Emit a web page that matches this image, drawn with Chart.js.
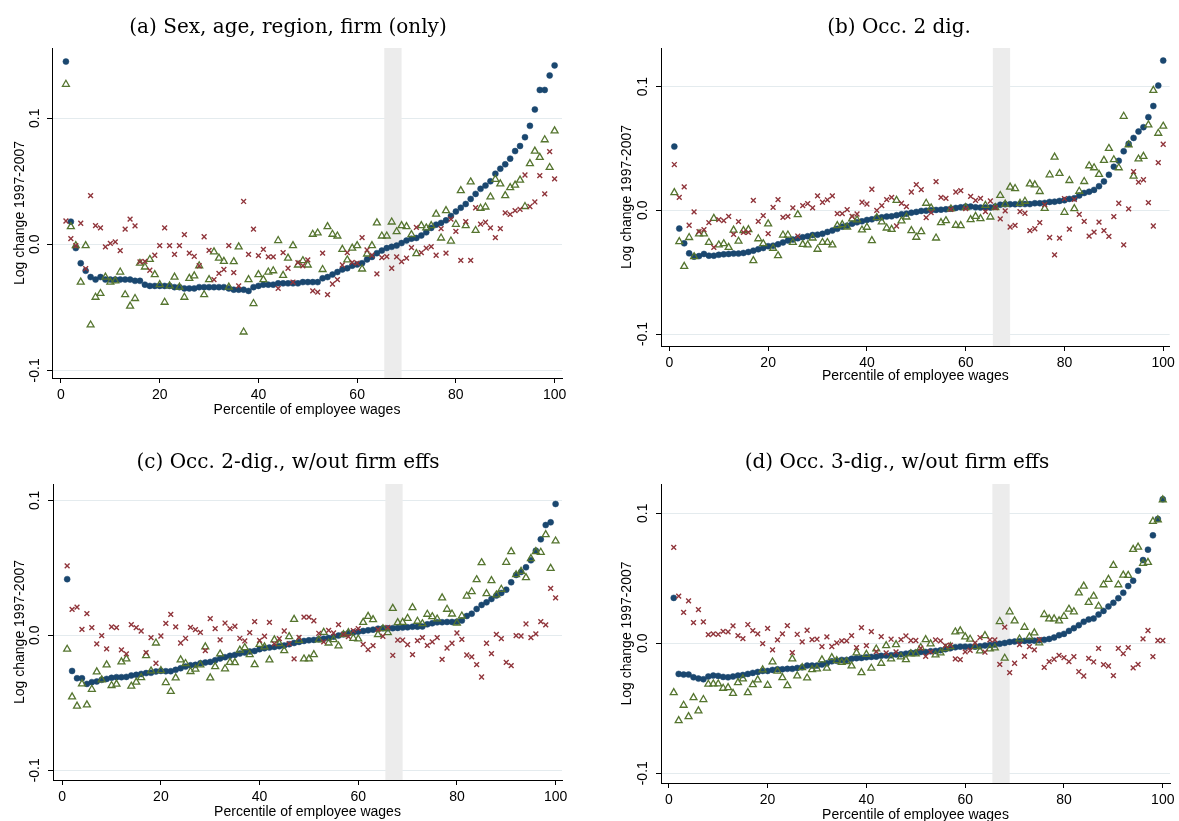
<!DOCTYPE html>
<html><head><meta charset="utf-8">
<script src="https://cdn.jsdelivr.net/npm/chart.js@4.4.0/dist/chart.umd.min.js"></script>
<style>
html,body{margin:0;padding:0;background:#fff;overflow:hidden;width:1179px;height:821px;position:relative;}
canvas{position:absolute;}
</style></head><body>
<canvas id="pa" width="590" height="420" style="left:0px;top:0px"></canvas>
<canvas id="pb" width="589" height="420" style="left:590px;top:0px"></canvas>
<canvas id="pc" width="590" height="400" style="left:0px;top:440px"></canvas>
<canvas id="pd" width="589" height="400" style="left:590px;top:440px"></canvas>
<script>
// ---------- data ----------
const percentiles = [1,2,3,4,5,6,7,8,9,10,11,12,13,14,15,16,17,18,19,20,21,22,23,24,25,26,27,28,29,30,31,32,33,34,35,36,37,38,39,40,41,42,43,44,45,46,47,48,49,50,51,52,53,54,55,56,57,58,59,60,61,62,63,64,65,66,67,68,69,70,71,72,73,74,75,76,77,78,79,80,81,82,83,84,85,86,87,88,89,90,91,92,93,94,95,96,97,98,99,100];
const xTickValues = [0,20,40,60,80,100];
const yTickValues = [-0.1,0.0,0.1];
const xAxisTitle = "Percentile of employee wages";
const yAxisTitle = "Log change 1997-2007";
const panelTitles = ["(a) Sex, age, region, firm (only)","(b) Occ. 2 dig.","(c) Occ. 2-dig., w/out firm effs","(d) Occ. 3-dig., w/out firm effs"];
const bandRange = [65.5, 69];

const aBlue = [0.145,0.018,-0.003,-0.015,-0.021,-0.026,-0.028,-0.026,-0.028,-0.028,-0.028,-0.028,-0.028,-0.028,-0.029,-0.029,-0.032,-0.033,-0.033,-0.033,-0.033,-0.033,-0.034,-0.034,-0.035,-0.035,-0.035,-0.034,-0.034,-0.034,-0.034,-0.034,-0.034,-0.035,-0.036,-0.036,-0.036,-0.037,-0.034,-0.033,-0.032,-0.032,-0.032,-0.031,-0.031,-0.031,-0.031,-0.031,-0.030,-0.030,-0.030,-0.030,-0.027,-0.026,-0.024,-0.022,-0.020,-0.019,-0.017,-0.016,-0.015,-0.012,-0.010,-0.007,-0.005,-0.003,-0.002,-0.001,0.001,0.003,0.0045,0.005,0.007,0.0095,0.013,0.0156,0.017,0.019,0.0225,0.026,0.029,0.032,0.036,0.040,0.044,0.0466,0.050,0.056,0.060,0.0635,0.068,0.074,0.078,0.085,0.094,0.107,0.1225,0.1225,0.134,0.142];
const aGreen = [0.127,0.014,-0.001,-0.030,-0.001,-0.064,-0.042,-0.039,-0.026,-0.030,-0.029,-0.022,-0.040,-0.049,-0.043,-0.015,-0.018,-0.012,-0.024,-0.032,-0.046,-0.033,-0.026,-0.034,-0.042,-0.027,-0.025,-0.017,-0.040,-0.028,-0.006,-0.011,-0.0135,-0.034,-0.0138,-0.002,-0.0696,-0.028,-0.047,-0.024,-0.028,-0.022,-0.021,0.003,-0.0246,-0.011,-0.001,-0.0164,-0.013,-0.0164,0.008,0.009,-0.020,0.014,0.008,0.0066,-0.004,-0.0124,-0.003,-0.001,-0.0196,-0.0077,-0.001,0.017,0.0066,0.0066,0.0177,0.010,0.0148,0.014,0.0077,-0.0074,0.0148,0.013,0.0148,0.024,0.005,0.0267,0.0026,0.0159,0.0426,0.0148,0.0495,0.011,0.0286,0.0296,0.0376,0.0516,0.048,0.0386,0.045,0.047,0.051,0.030,0.064,0.074,0.069,0.083,0.061,0.090];
const aRed = [0.0185,0.0045,-0.001,0.0167,-0.0193,0.0386,0.0148,0.013,-0.002,0.0008,0.002,-0.005,0.012,0.020,0.0146,-0.014,-0.0135,-0.0206,-0.0087,-0.001,0.013,-0.001,-0.008,-0.001,0.0077,-0.007,-0.0095,-0.017,0.006,-0.0048,-0.028,-0.023,-0.020,-0.001,-0.0225,-0.033,0.034,-0.008,0.012,-0.009,-0.004,-0.010,-0.010,-0.035,-0.0066,-0.019,-0.030,-0.0146,-0.017,-0.0124,-0.037,-0.038,-0.007,-0.040,-0.0315,-0.028,-0.0164,-0.0066,-0.0143,-0.015,0.0053,-0.0045,-0.0087,-0.0235,-0.0106,-0.0098,-0.019,-0.010,-0.0138,-0.011,-0.0026,0.0135,-0.0066,-0.003,-0.0019,-0.0087,0.0124,-0.007,0.020,0.0103,-0.0127,0.018,-0.0127,0.029,0.016,0.0175,0.013,0.0053,0.0124,0.025,0.0238,0.0267,0.0278,0.055,0.030,0.0336,0.0545,0.040,0.0735,0.052];

const bBlue = [0.0515,-0.0148,-0.0267,-0.0348,-0.0375,-0.037,-0.0353,-0.0367,-0.0367,-0.036,-0.0356,-0.0353,-0.035,-0.035,-0.0345,-0.0337,-0.0326,-0.0315,-0.0305,-0.029,-0.0286,-0.0275,-0.026,-0.0245,-0.0237,-0.0226,-0.0218,-0.021,-0.020,-0.0197,-0.019,-0.0175,-0.0164,-0.015,-0.0132,-0.0124,-0.0108,-0.0097,-0.0089,-0.0078,-0.0073,-0.0062,-0.0057,-0.0051,-0.0049,-0.004,-0.0032,-0.0027,-0.0019,-0.0013,-0.0005,-0.0003,0,0.0003,0.0005,0.0008,0.0013,0.0019,0.0024,0.003,0.003,0.0024,0.0022,0.0022,0.0022,0.003,0.0045,0.0049,0.0049,0.0049,0.005,0.005,0.005,0.0057,0.0057,0.006,0.0068,0.007,0.0076,0.0081,0.0092,0.0098,0.012,0.014,0.015,0.0165,0.0195,0.0233,0.0287,0.0352,0.040,0.0477,0.0537,0.0585,0.0637,0.0672,0.0753,0.0843,0.1008,0.121];
const bGreen = [0.0143,-0.0253,-0.0453,-0.022,-0.0375,-0.019,-0.019,-0.026,-0.0065,-0.028,-0.027,-0.030,-0.016,-0.025,-0.0164,-0.0156,-0.0407,-0.023,-0.027,-0.011,-0.0307,-0.0367,-0.020,-0.020,-0.026,-0.0035,-0.0275,-0.028,-0.0224,-0.0315,-0.026,-0.026,-0.028,-0.0124,-0.0116,-0.0135,-0.007,-0.0078,-0.0159,-0.0137,-0.0245,-0.0059,-0.0094,-0.0143,-0.0154,0.008,-0.0086,-0.0054,-0.0164,-0.0218,-0.0172,0.0057,0.0019,-0.0224,-0.010,-0.0084,0.0011,-0.0121,-0.0124,0.0022,-0.0075,-0.0049,-0.0067,0.004,-0.0054,0.0022,0.012,0.005,0.0187,0.0176,0.0057,0.0073,0.0214,0.0206,0.0152,0.0016,0.0287,0.043,0.0298,-0.0016,0.0241,0.0014,0.0154,0.0233,0.036,0.0344,0.029,0.0404,0.050,0.0409,0.0344,0.076,0.053,0.0276,0.0415,0.0436,0.069,0.097,0.0623,0.068];
const bRed = [0.037,0.0105,0.0189,-0.0121,-0.0013,-0.0173,-0.0156,-0.010,-0.030,-0.0075,-0.0084,-0.0049,-0.0194,-0.0092,-0.0178,-0.0178,0.008,-0.0089,-0.0043,-0.0189,0.0024,0.0086,-0.0057,-0.0049,0.0019,-0.0208,0.0038,0.0054,0.0019,0.0116,0.0065,0.0084,0.0116,-0.0027,-0.0027,0.0005,-0.0049,-0.003,0.0065,0.0051,0.017,0,0.0038,0.0086,0.0105,-0.0127,0.0057,0.003,0.0148,0.0208,0.0167,-0.0059,-0.0019,0.0232,0.0105,0.0097,0.0008,0.0148,0.0159,0.0013,0.0113,0.008,0.0097,-0.0011,0.0075,0.0022,-0.007,-0.0005,-0.0135,-0.0122,-0.0011,-0.0024,-0.0165,-0.0149,-0.010,0.0046,-0.022,-0.036,-0.0225,0.0095,-0.0152,0.0089,-0.0033,-0.0089,-0.0209,-0.0176,-0.0095,-0.0165,-0.0211,-0.0051,0.0057,-0.0279,0.0011,0.0312,0.0228,0.0247,0.0062,-0.0127,0.0385,0.0534];

const cBlue = [0.0416,-0.0264,-0.0318,-0.0318,-0.036,-0.0347,-0.0342,-0.033,-0.0323,-0.0315,-0.031,-0.031,-0.0308,-0.0298,-0.0293,-0.0286,-0.028,-0.0278,-0.0268,-0.0264,-0.0266,-0.0266,-0.0256,-0.0244,-0.0232,-0.0222,-0.0219,-0.0207,-0.0202,-0.0197,-0.0185,-0.0172,-0.0162,-0.0152,-0.0145,-0.0135,-0.0128,-0.012,-0.0116,-0.0103,-0.0096,-0.0091,-0.0086,-0.0081,-0.0076,-0.0066,-0.0057,-0.0049,-0.0042,-0.0037,-0.0034,-0.003,-0.0025,-0.002,-0.001,-0.0002,0.0007,0.0015,0.002,0.0027,0.0032,0.0037,0.0042,0.0049,0.0052,0.0052,0.0053,0.0055,0.0057,0.0059,0.0064,0.0064,0.0065,0.0081,0.0089,0.0096,0.0097,0.0099,0.0099,0.0101,0.0109,0.0143,0.016,0.0195,0.0225,0.0244,0.0269,0.0294,0.0314,0.0338,0.0393,0.0447,0.0469,0.0504,0.0556,0.0627,0.0711,0.0817,0.0837,0.0973];
const cGreen = [-0.0103,-0.0456,-0.0525,-0.036,-0.0515,-0.040,-0.0271,-0.033,-0.0219,-0.0372,-0.0362,-0.0197,-0.0175,-0.0377,-0.0347,-0.0313,-0.015,-0.0264,-0.0057,-0.0261,-0.035,-0.0416,-0.0315,-0.0182,-0.0209,-0.0268,-0.0251,-0.0219,-0.0086,-0.0315,-0.0232,-0.0138,-0.0248,-0.020,-0.0202,-0.011,-0.0091,-0.0143,-0.0217,-0.0067,-0.0086,-0.0182,-0.0034,-0.0062,-0.0113,-0.001,0.0118,-0.0037,-0.0175,-0.0175,-0.0143,-0.0034,0.0022,-0.0057,-0.0032,-0.0079,0.0005,0.002,-0.0022,-0.0027,0.0096,0.014,0.0116,0.0005,0.0049,0.002,0.020,0.0094,0.0096,0.0126,0.0205,0.0104,0.0086,0.0156,0.0138,0.0121,0.0277,0.0193,0.0158,0.0091,0.0143,0.0291,0.0323,0.0412,0.0538,0.0309,0.0405,0.0299,0.0341,0.0541,0.062,0.0449,0.0474,0.0427,0.0568,0.062,0.0615,0.0746,0.0496,0.0699];
const cRed = [0.0515,0.0192,0.0209,0.0044,0.016,0.0057,-0.0064,-0.0002,-0.0101,0.0062,0.0057,-0.0108,-0.0138,0.0079,0.0057,0.0032,-0.0128,-0.0017,-0.0207,-0.0005,0.0089,0.0155,0.0062,-0.0057,-0.0022,0.0059,0.0042,0.0022,-0.0113,0.0123,0.0049,-0.0034,0.0091,0.0049,0.0067,-0.0022,-0.0042,0.002,0.0101,-0.0037,-0.0007,0.0096,-0.0064,-0.0025,0.0032,-0.0062,-0.0175,-0.0015,0.0135,0.0135,0.0108,0.0015,-0.0049,0.0037,0.0017,0.0079,0.0007,-0.001,0.0034,0.0049,-0.0067,-0.0106,-0.0076,0.0044,-0.0007,0.0059,-0.0148,-0.0035,-0.0035,-0.0069,-0.0143,-0.004,-0.0017,-0.0074,-0.0049,-0.0017,-0.0178,-0.0094,-0.0059,0.0017,-0.003,-0.0146,-0.016,-0.0217,-0.0309,-0.0059,-0.0136,0.0007,-0.0025,-0.020,-0.0225,-0.0002,-0.0005,0.0084,-0.0017,0.001,0.0101,0.0077,0.0348,0.0277];

const dBlue = [0.0349,-0.0236,-0.0241,-0.0241,-0.0262,-0.0272,-0.0277,-0.0256,-0.0249,-0.0251,-0.0259,-0.0262,-0.0256,-0.0249,-0.0244,-0.0236,-0.0228,-0.0221,-0.0213,-0.0213,-0.0205,-0.020,-0.020,-0.0197,-0.0197,-0.019,-0.0185,-0.0172,-0.0172,-0.0172,-0.0164,-0.0154,-0.0139,-0.0135,-0.0128,-0.0128,-0.012,-0.0115,-0.0113,-0.0108,-0.0105,-0.0103,-0.0097,-0.0095,-0.0092,-0.0087,-0.0085,-0.008,-0.0074,-0.0072,-0.0067,-0.0067,-0.0062,-0.0059,-0.0054,-0.0046,-0.0038,-0.0031,-0.0026,-0.0026,-0.0026,-0.0026,-0.0023,-0.0018,-0.0013,-0.001,-0.0004,0.0002,0.001,0.0013,0.0015,0.0018,0.002,0.002,0.0023,0.0026,0.0033,0.0044,0.0062,0.0072,0.0095,0.0116,0.0139,0.0165,0.0183,0.019,0.0221,0.0249,0.0283,0.0311,0.0347,0.0388,0.044,0.0481,0.0558,0.064,0.072,0.083,0.0956,0.1108];
const dGreen = [-0.038,-0.0595,-0.0477,-0.0564,-0.0418,-0.052,-0.0433,-0.0315,-0.0313,-0.0313,-0.0346,-0.0341,-0.0385,-0.0303,-0.0274,-0.038,-0.0318,-0.0282,-0.0205,-0.0323,-0.0144,-0.0215,-0.0264,-0.0326,-0.012,-0.0251,-0.0187,-0.0267,-0.0203,-0.0197,-0.0128,-0.0192,-0.011,-0.0133,-0.0146,-0.0141,-0.0174,-0.0074,-0.0226,-0.0085,-0.0192,-0.0044,-0.0154,-0.0018,-0.012,-0.001,-0.0105,-0.0126,-0.0082,-0.0082,-0.0033,0.0028,-0.0005,-0.009,-0.0074,-0.0041,-0.0026,0.0087,0.0095,0.0049,0.0031,-0.0026,-0.0059,0.0059,-0.0044,-0.0036,0.0167,-0.0115,0.0242,0.0172,0.0033,0.0123,0.0049,0.008,0.0003,0.0221,0.0188,0.0188,0.0172,0.0206,0.0262,0.0242,0.0388,0.044,0.0314,0.0362,0.0285,0.045,0.0491,0.0599,0.045,0.0524,0.0522,0.0722,0.074,0.0614,0.0622,0.0938,0.0949,0.1103];
const dRed = [0.0738,0.0362,0.0238,0.0326,0.0159,0.0259,0.0164,0.0067,0.0072,0.0069,0.0092,0.0087,0.0133,0.0059,0.0036,0.0144,0.0097,0.0072,-0.0003,0.0115,-0.0051,0.0026,0.0072,0.0136,-0.0072,0.0069,0.001,0.01,0.0028,0.0031,-0.0026,0.0049,-0.0025,0.0003,0.0018,0.0018,0.0059,-0.0033,0.012,-0.0018,0.009,-0.0064,0.0051,-0.0074,0.0031,-0.0067,0.0028,0.0056,0.0021,0.0021,-0.0038,-0.01,-0.0067,0.0026,0.0018,-0.0018,-0.0015,-0.012,-0.0126,-0.0067,-0.0054,0.0003,0.0044,-0.0069,0.0026,0.0026,-0.0163,0.0124,-0.0226,-0.0154,-0.001,-0.01,-0.0026,-0.0051,0.0028,-0.0185,-0.0141,-0.0123,-0.0093,-0.011,-0.0141,-0.0103,-0.0219,-0.0252,-0.0116,-0.0144,-0.0039,-0.0165,-0.0175,-0.0249,-0.0039,-0.008,-0.0033,-0.019,-0.0162,0.0033,0.0098,-0.0103,0.0021,0.0021];

// ---------- styling / layout ----------
const NAVY = '#1a476f', GREEN = '#55752f', MAROON = '#90353b';
Chart.defaults.font.family = "'Liberation Sans', Arial, sans-serif";
Chart.defaults.font.size = 14;
Chart.defaults.color = '#000';

const bandPlugin = {
  id: 'band',
  beforeDatasetsDraw(chart, args, opts) {
    const {ctx, chartArea, scales} = chart;
    const x1 = scales.x.getPixelForValue(opts.from), x2 = scales.x.getPixelForValue(opts.to);
    ctx.save();
    ctx.fillStyle = opts.color;
    ctx.fillRect(x1, chartArea.top, x2 - x1, chartArea.bottom - chartArea.top);
    ctx.restore();
  }
};
const titlePlugin = {
  id: 'panelTitle',
  afterDraw(chart, args, opts) {
    const ctx = chart.ctx;
    ctx.save();
    ctx.font = opts.font;
    ctx.fillStyle = '#000';
    ctx.textAlign = 'center';
    ctx.textBaseline = 'middle';
    ctx.fillText(opts.text, opts.x, opts.y);
    ctx.restore();
  }
};

function pts(vals) { return percentiles.map((p, i) => ({x: p, y: vals[i]})); }

function makePanel(id, title, blue, green, red, g) {
  new Chart(document.getElementById(id), {
    type: 'scatter',
    data: {
      datasets: [
        {data: pts(blue), pointStyle: 'circle', pointRadius: 3, backgroundColor: NAVY, borderColor: NAVY, borderWidth: 0.5, order: 3},
        {data: pts(green), pointStyle: 'triangle', pointRadius: 4, backgroundColor: 'rgba(0,0,0,0)', borderColor: GREEN, borderWidth: 1.3, order: 2},
        {data: pts(red), pointStyle: 'crossRot', pointRadius: 3.4, backgroundColor: MAROON, borderColor: MAROON, borderWidth: 1.4, order: 1}
      ]
    },
    options: {
      responsive: false, animation: false, events: [],
      layout: {padding: g.pad},
      plugins: {
        legend: {display: false}, tooltip: {enabled: false},
        band: {from: bandRange[0], to: bandRange[1], color: '#ececec'},
        panelTitle: {text: title, x: g.tx, y: g.ty, font: "20px 'DejaVu Serif', serif"}
      },
      scales: {
        x: {
          type: 'linear', min: g.xmin, max: g.xmax,
          afterBuildTicks: s => { s.ticks = xTickValues.map(v => ({value: v})); },
          afterFit: s => { s.height = g.xh; },
          ticks: {padding: 4, maxRotation: 0, callback: v => String(v), color: '#000', font: {size: 14}},
          grid: {drawOnChartArea: false, tickLength: 5, tickColor: '#000', tickWidth: 1},
          border: {display: true, color: '#000', width: 1},
          title: {display: true, text: xAxisTitle, color: '#000', font: {size: 14}, padding: {top: 0, bottom: 0}}
        },
        y: {
          type: 'linear', min: g.ymin, max: g.ymax,
          afterBuildTicks: s => { s.ticks = yTickValues.map(v => ({value: v})); },
          afterFit: s => { s.width = g.yw; },
          ticks: {padding: g.ytp, minRotation: 90, maxRotation: 90, crossAlign: 'center', callback: v => Number(v).toFixed(1), color: '#000', font: {size: 14}},
          grid: {drawOnChartArea: true, color: '#e4ebee', lineWidth: 1, tickLength: 5, tickColor: '#000', tickWidth: 1},
          border: {display: true, color: '#000', width: 1},
          title: {display: true, text: yAxisTitle, color: '#000', font: {size: 14}, padding: {top: g.ytt, bottom: 0}}
        }
      }
    },
    plugins: [bandPlugin, titlePlugin]
  });
}

makePanel('pa', panelTitles[0], aBlue, aGreen, aRed,
  {pad: {left: 0, right: 28, top: 48, bottom: 1}, yw: 52, xh: 41, ytt: 11.6, ytp: 0, tx: 288, ty: 28,
   xmin: -1.82, xmax: 101.5, ymin: -0.1061, ymax: 0.1558});
makePanel('pb', panelTitles[1], bBlue, bGreen, bRed,
  {pad: {left: 0, right: 9, top: 48, bottom: 35.6}, yw: 71, xh: 38.4, ytt: 28.6, ytp: 1, tx: 309, ty: 28,
   xmin: -1.7, xmax: 101.3, ymin: -0.1097, ymax: 0.1312});
makePanel('pc', panelTitles[2], cBlue, cGreen, cRed,
  {pad: {left: 0, right: 28, top: 44, bottom: 19.6}, yw: 53, xh: 40.4, ytt: 11.6, ytp: 1, tx: 288, ty: 23,
   xmin: -1.87, xmax: 101.3, ymin: -0.1072, ymax: 0.1121});
makePanel('pd', panelTitles[3], dBlue, dGreen, dRed,
  {pad: {left: 0, right: 9, top: 44, bottom: 16.6}, yw: 71, xh: 40.4, ytt: 28.6, ytp: 1, tx: 307, ty: 23,
   xmin: -1.58, xmax: 101.46, ymin: -0.1075, ymax: 0.1225});
</script>
</body></html>
